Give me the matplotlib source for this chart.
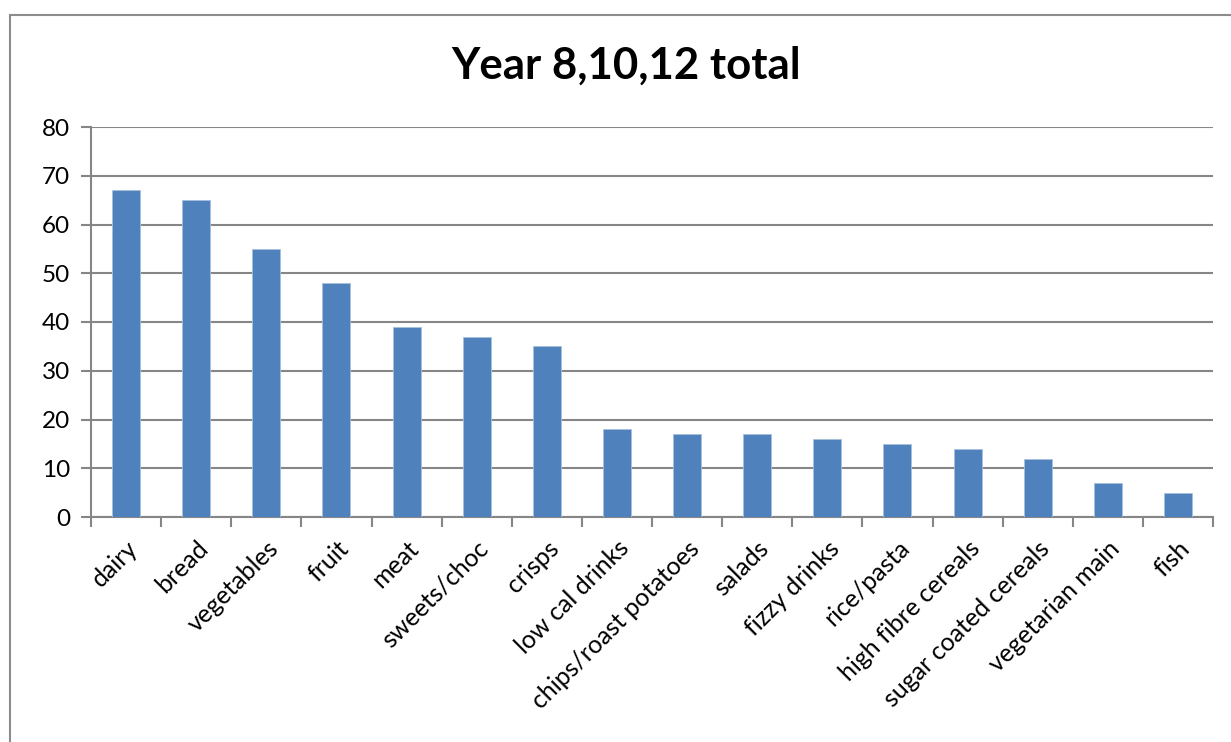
import matplotlib.pyplot as plt
from matplotlib.patches import Rectangle

categories = ["dairy", "bread", "vegetables", "fruit", "meat", "sweets/choc",
              "crisps", "low cal drinks", "chips/roast potatoes", "salads",
              "fizzy drinks", "rice/pasta", "high fibre cereals",
              "sugar coated cereals", "vegetarian main", "fish"]
totals = [67, 65, 55, 48, 39, 37, 35, 18, 17, 17, 16, 15, 14, 12, 7, 5]
y_ticks = [0, 10, 20, 30, 40, 50, 60, 70, 80]

plt.rcParams['font.family'] = ['Lato', 'DejaVu Sans']

fig = plt.figure(figsize=(12.31, 7.42), dpi=100)
ax = fig.add_axes([91 / 1231, 1 - 517 / 742, 1122 / 1231, 390 / 742])

# outer chart frame (bottom and right edges fall outside the image)
fig.patches.append(Rectangle((10 / 1231, -0.1), 1.2, 1 - 15 / 742 + 0.1,
                             transform=fig.transFigure, fill=False,
                             edgecolor='#8c8c8c', linewidth=1.5))

x = list(range(len(categories)))
ax.bar(x, totals, width=0.4, color='#4F81BD', edgecolor='#a7c0de',
       linewidth=0.6, zorder=3)

ax.set_xlim(-0.5, len(categories) - 0.5)
ax.set_ylim(0, 80)
ax.set_yticks(y_ticks)
ax.tick_params(axis='y', labelsize=17.5, length=7, width=1.5, color='#868686', pad=8)
ax.grid(axis='y', color='#868686', linewidth=1.5, zorder=0)

ax.set_xticks([i - 0.5 for i in range(len(categories) + 1)])
ax.set_xticklabels([])
ax.set_xticks(x, minor=True)
ax.set_xticklabels(categories, minor=True, rotation=45, ha='right',
                   rotation_mode='anchor', fontsize=18)
ax.tick_params(axis='x', which='major', length=7, width=1.5, color='#868686')
ax.tick_params(axis='x', which='minor', length=0, pad=14)

for side in ['top', 'right']:
    ax.spines[side].set_visible(False)
for side in ['left', 'bottom']:
    ax.spines[side].set_color('#868686')
    ax.spines[side].set_linewidth(1.5)

fig.text(626 / 1231, 1 - 66 / 742, "Year 8,10,12 total", ha='center',
         va='center', fontsize=31.5, fontweight='bold')

fig.savefig("out.png", dpi=100)
